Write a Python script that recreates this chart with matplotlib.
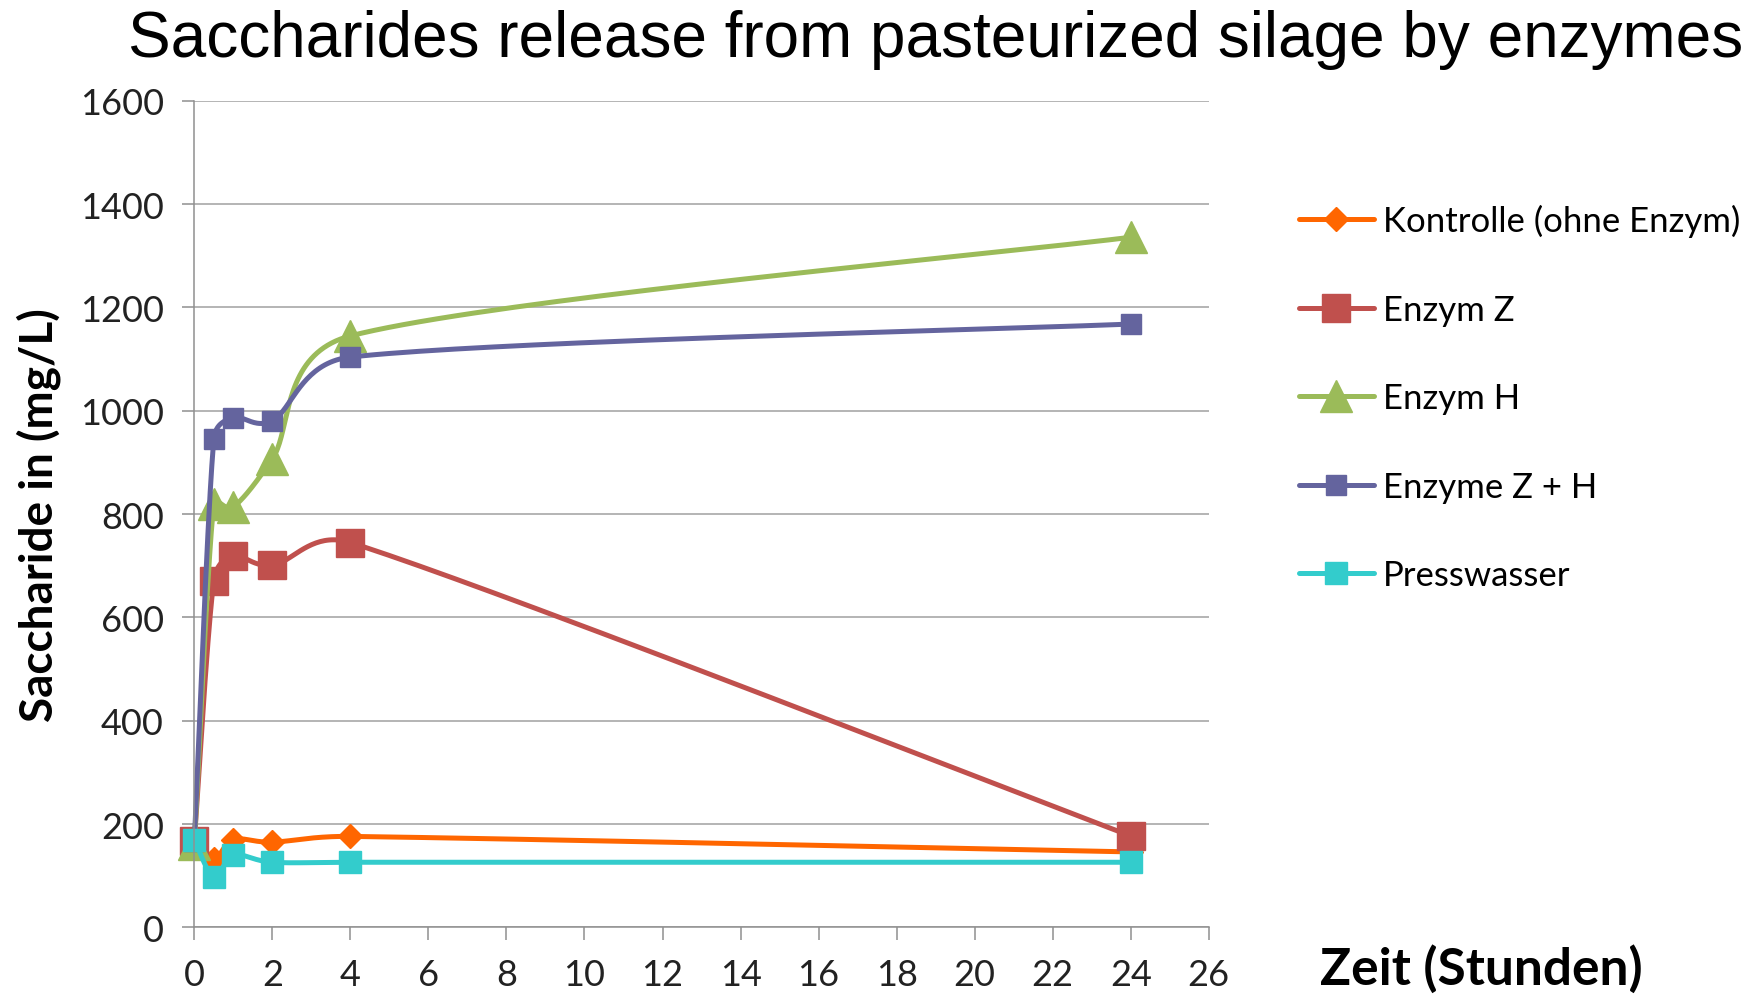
import numpy as np
import matplotlib
matplotlib.use('Agg')
import matplotlib.pyplot as plt

# data
hours = [0, 0.5, 1, 2, 4, 24]
kontrolle = [168, 132, 170, 165, 176, 146]
enzym_z = [168, 671, 719, 701, 745, 177]
enzym_h = [162, 820, 814, 907, 1145, 1336]
enzyme_zh = [168, 945, 987, 981, 1104, 1168]
presswasser = [170, 97, 140, 126, 126, 126]

labels = ['Kontrolle (ohne Enzym)', 'Enzym Z', 'Enzym H', 'Enzyme Z + H', 'Presswasser']
series = [kontrolle, enzym_z, enzym_h, enzyme_zh, presswasser]
colors = ['#FF6600', '#C0504D', '#9BBB59', '#64649E', '#33CCCC']
markers = ['D', 's', '^', 's', 's']
msizes = [12, 20, 23, 15, 16]

xticks = list(range(0, 27, 2))
yticks = list(range(0, 1601, 200))


def excel_smooth(ax, xs, ys, n=40):
    # bezier smoothing in display space, like Excel's "smoothed line"
    pts = ax.transData.transform(np.column_stack([xs, ys]))
    ext = np.vstack([pts[0], pts, pts[-1]])
    out = [pts[0]]
    for i in range(len(pts) - 1):
        p0, p1, p2, p3 = ext[i], ext[i + 1], ext[i + 2], ext[i + 3]
        d02 = np.hypot(*(p2 - p0))
        d12 = np.hypot(*(p2 - p1))
        d13 = np.hypot(*(p3 - p1))
        f1 = 1 / 6 if d02 / 6 < d12 / 2 else d12 / d02 / 2
        f2 = 1 / 6 if d13 / 6 < d12 / 2 else d12 / d13 / 2
        c1 = p1 + f1 * (p2 - p0)
        c2 = p2 - f2 * (p3 - p1)
        t = np.linspace(0, 1, n + 1)[1:, None]
        seg = (1 - t)**3 * p1 + 3 * (1 - t)**2 * t * c1 + 3 * (1 - t) * t**2 * c2 + t**3 * p2
        out.extend(seg)
    out = ax.transData.inverted().transform(np.array(out))
    return out[:, 0], out[:, 1], [i * n for i in range(len(pts))]


fig = plt.figure(figsize=(17.62, 9.95), dpi=100)
ax = fig.add_axes([0.1103, 0.067, 0.5757, 0.8306])
ax.set_xlim(0, 26)
ax.set_ylim(0, 1600)

for vals, lab, c, m, ms in zip(series, labels, colors, markers, msizes):
    sx, sy, idx = excel_smooth(ax, hours, vals)
    ax.plot(sx, sy, color=c, lw=3.6, marker=m, markersize=ms, markevery=idx,
            markeredgecolor=c, label=lab, clip_on=False, solid_capstyle='round')

ax.set_xticks(xticks)
ax.set_yticks(yticks)
ax.grid(axis='y', color='#A0A0A0', lw=1.1)
ax.set_axisbelow(True)
for s in ['top', 'right']:
    ax.spines[s].set_visible(False)
for s in ['left', 'bottom']:
    ax.spines[s].set_color('#909090')
    ax.spines[s].set_linewidth(1.1)
ax.tick_params(length=9, width=1.1, color='#909090', pad=13,
               labelsize=26, labelcolor='#222222')
for lbl in ax.get_xticklabels() + ax.get_yticklabels():
    lbl.set_family('Lato')

fig.text(0.531, 0.960, 'Saccharides release from pasteurized silage by enzymes',
         ha='center', va='center', fontsize=46, family='Liberation Sans')
fig.text(0.0222, 0.4826, 'Saccharide in (mg/L)', rotation=90, ha='center', va='center',
         fontsize=33, fontweight='bold', family='Lato')
fig.text(0.8405, 0.026, 'Zeit (Stunden)', ha='center', va='center',
         fontsize=37, fontweight='bold', family='Lato')

ax.legend(loc='upper left', bbox_to_anchor=(0.737, 0.794), bbox_transform=fig.transFigure,
          frameon=False, prop={'family': 'Lato', 'size': 25}, handlelength=2.16,
          handletextpad=0.26, labelspacing=1.63, borderpad=0, borderaxespad=0)

fig.savefig('out.png', dpi=100)
